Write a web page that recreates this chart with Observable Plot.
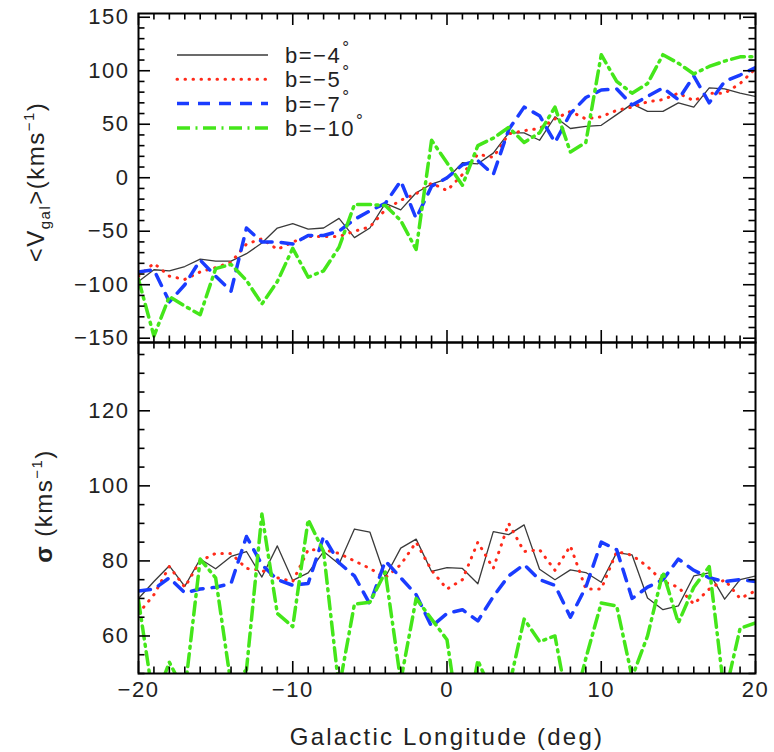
<!DOCTYPE html>
<html>
<head>
<meta charset="utf-8">
<script src="https://cdn.jsdelivr.net/npm/d3@7"></script>
<script src="https://cdn.jsdelivr.net/npm/@observablehq/plot@0.6"></script>
<style>
  html, body { margin: 0; padding: 0; background: #fff; }
  #chart { position: relative; width: 774px; height: 752px; background: #fff; }
  #chart svg { position: absolute; left: 0; }
  #chart svg text { letter-spacing: 1.5px; }
</style>
</head>
<body>
<div id="chart"></div>
<script>
// Galactic longitude of each field (deg)
const longitude = [-20,-19,-18,-17,-16,-15,-14,-13,-12,-11,-10,-9,-8,-7,-6,-5,-4,-3,-2,-1,
                   0,1,2,3,4,5,6,7,8,9,10,11,12,13,14,15,16,17,18,19,20];

// Mean galactocentric velocity <V_gal> (km/s) for each latitude strip
const vgal_b4  = [-97,-86,-87,-83,-76,-78,-78,-71,-61,-47, -43,-48,-47,-38,-56,-47,-24,-30,-14,-6,
                  -1,14,13,23,42,42,35,57,46,48,49, 59,69,62,62,70,66,84,83,79,76];
const vgal_b5  = [-92,-80,-92,-95,-88,-84,-79,-62,-57,-67, -60,-55,-55,-55,-50,-46,-30,-21,-15,-5,
                  -12,3,22,19,41,44,46,55,62,55,57, 63,66,71,73,79,72,79,79,88,102];
const vgal_b7  = [-88,-86,-116,-100,-77,-92,-106,-47,-60,-60, -62,-54,-54,-50,-39,-31,-24,-3,-38,-8,
                  0,12,16,3,45,66,58,33,60,75,82, 83,68,76,84,73,95,70,90,96,103];
const vgal_b10 = [-95,-148,-111,-120,-128,-85,-81,-96,-118,-97, -66,-93,-87,-65,-25,-25,-26,-40,-67,35,
                  14,-7,30,37,47,33,42,66,24,33,115, 90,79,88,115,107,97,104,109,113,113];

// Velocity dispersion sigma (km/s) for each latitude strip
const sigma_b4  = [70,74.5,78.7,73.2,80.5,77.9,81.2,82.5,75.7,84, 74.8,76.8,82.5,79.2,88.5,87.7,75.7,83.4,85.8,77.2,
                   78.2,78,73.9,87.8,87,89.6,77.8,75,77.6,76.9,74.3, 82.2,81.6,70.1,67,68,76,76.8,69.8,75,76];
const sigma_b5  = [66,71,78.5,73,80,82,82,78,77.5,75.5, 74.5,83,83,82,80,78,75.5,79,85,77.5,
                   72.5,75,85,78,90,82.5,83,77.5,84,72.5,72.5, 82.5,81.5,78.5,74.5,73,68.5,72.5,75,70,72];
const sigma_b7  = [72,72.5,75.5,71.5,72.5,73,74,86.5,79,75, 73.5,74,86.5,79.5,76,68.5,80,75.5,71,62.5,
                   66,67,64,70.5,76,79,75,73.5,65,73,85, 83,70,73,75,80.5,77.5,75.5,74.5,75,74.5];
const sigma_b10 = [69.5,42,53,45,80.5,75.5,47,51,92.5,66, 62.5,91,82.5,46,68.5,69,77,48,70,64.5,
                   59,31,53.5,44,46,64.5,58.5,60,38,54,68.8, 68,49,60,77,63.5,73,78.5,44,62,63.5];

// Series labels and tick labels
const seriesNames = ["b=−4", "b=−5", "b=−7", "b=−10"];
const xTicks = [-20, -10, 0, 10, 20];
const vTicks = [-150, -100, -50, 0, 50, 100, 150];
const sigmaTicks = [60, 80, 100, 120];
const xLabel = "Galactic Longitude (deg)";

// Line styles per series
const styles = [
  {stroke: "#3a3a3a", strokeWidth: 1.3},
  {stroke: "#ff2a1a", strokeWidth: 3, strokeDasharray: "0.5,7.5", strokeLinecap: "round"},
  {stroke: "#1a3cff", strokeWidth: 3.5, strokeDasharray: "12,9"},
  {stroke: "#44e61a", strokeWidth: 3.5, strokeDasharray: "13,5.5,2,5.5"}
];

const rows = vals => vals.map((v, i) => ({l: longitude[i], v}));
const fmt = d => d < 0 ? "−" + Math.abs(d) : String(d);

const W = 774, ML = 138, MR = 19;
const FONT = "'Liberation Sans', Arial, sans-serif";

function panel({series, yDomain, yMajor, yMinorStep, height, marginTop, marginBottom, bottomAxis}) {
  const fw = W - ML - MR, fh = height - marginTop - marginBottom;
  const major = 12, minor = 6.5;
  const xMinor = d3.range(-20, 21, 1).filter(v => !xTicks.includes(v));
  const yMinor = d3.range(Math.ceil(yDomain[0] / yMinorStep) * yMinorStep, yDomain[1], yMinorStep)
    .filter(v => !yMajor.includes(v));
  const tick = {stroke: "#000", strokeWidth: 1.6};
  const marks = [
    ...series.map((vals, i) => Plot.line(rows(vals), {x: "l", y: "v", clip: true, ...styles[i]})),
    Plot.ruleX(xTicks, {...tick, insetTop: fh - major}),
    Plot.ruleX(xTicks, {...tick, insetBottom: fh - major}),
    Plot.ruleX(xMinor, {...tick, insetTop: fh - minor}),
    Plot.ruleX(xMinor, {...tick, insetBottom: fh - minor}),
    Plot.ruleY(yMajor, {...tick, insetRight: fw - major}),
    Plot.ruleY(yMajor, {...tick, insetLeft: fw - major}),
    Plot.ruleY(yMinor, {...tick, insetRight: fw - minor}),
    Plot.ruleY(yMinor, {...tick, insetLeft: fw - minor}),
    Plot.frame({stroke: "#000", strokeWidth: 2}),
    Plot.axisY({ticks: yMajor, tickSize: 0, tickPadding: 9, fontSize: 22, label: null, tickFormat: fmt, fill: "#222"})
  ];
  if (bottomAxis) {
    marks.push(Plot.axisX({ticks: xTicks, tickSize: 0, tickPadding: 8, fontSize: 22, label: null, tickFormat: fmt, fill: "#222"}));
    marks.push(Plot.text([xLabel], {text: d => d, frameAnchor: "bottom", dy: 71, fontSize: 24, fill: "#222"}));
  }
  return Plot.plot({
    width: W, height, marginLeft: ML, marginRight: MR, marginTop, marginBottom,
    x: {domain: [-20, 20], axis: bottomAxis ? undefined : null},
    y: {domain: yDomain},
    style: {fontFamily: FONT, background: "transparent", color: "#222", overflow: "visible"},
    marks
  });
}

const chart = document.getElementById("chart");

const sigmaPanel = panel({
  series: [sigma_b4, sigma_b5, sigma_b7, sigma_b10],
  yDomain: [50, 138.2], yMajor: sigmaTicks, yMinorStep: 5,
  height: 410, marginTop: 0, marginBottom: 79, bottomAxis: true
});
sigmaPanel.style.top = "342px";
chart.appendChild(sigmaPanel);

// The velocity panel goes on top so its lowest tick label can overhang the lower panel
const velocityPanel = panel({
  series: [vgal_b4, vgal_b5, vgal_b7, vgal_b10],
  yDomain: [-154, 153.5], yMajor: vTicks, yMinorStep: 10,
  height: 342, marginTop: 13, marginBottom: 0, bottomAxis: false
});
velocityPanel.style.top = "0px";
chart.appendChild(velocityPanel);

// Rotated axis titles with sub/superscripts
function title(svg, x, y, parts) {
  const t = d3.select(svg).append("text")
    .attr("transform", `translate(${x},${y}) rotate(-90)`)
    .attr("text-anchor", "middle").attr("font-family", FONT)
    .attr("font-size", 24).attr("fill", "#222");
  for (const p of parts) {
    const s = t.append("tspan").text(p.text);
    if (p.size) s.attr("font-size", p.size);
    if (p.dy) s.attr("dy", p.dy);
    if (p.weight) s.attr("font-weight", p.weight);
  }
}
title(velocityPanel, 44, 182, [
  {text: "<V"}, {text: "gal", size: 15, dy: 6}, {text: ">(kms", dy: -6},
  {text: "−1", size: 15, dy: -10}, {text: ")", dy: 10}
]);
title(sigmaPanel, 52, 164, [
  {text: "σ", weight: "bold"}, {text: " (kms"},
  {text: "−1", size: 15, dy: -10}, {text: ")", dy: 10}
]);
d3.select(sigmaPanel).selectAll("text")
  .filter(function() { return this.textContent === xLabel; })
  .style("letter-spacing", "2.2px");

// Legend in the upper-left corner of the velocity panel
const lg = d3.select(velocityPanel).append("g");
seriesNames.forEach((name, i) => {
  const y = 55 + i * 24.3, s = styles[i];
  lg.append("line").attr("x1", 177).attr("x2", 268).attr("y1", y).attr("y2", y)
    .attr("stroke", s.stroke).attr("stroke-width", s.strokeWidth)
    .attr("stroke-dasharray", s.strokeDasharray || null)
    .attr("stroke-linecap", s.strokeLinecap || null);
  const t = lg.append("text").attr("x", 285).attr("y", y).attr("dy", "0.36em")
    .attr("text-anchor", "start")
    .attr("font-family", FONT).attr("font-size", 22).attr("fill", "#222");
  t.append("tspan").text(name);
  t.append("tspan").attr("dy", -10).attr("dx", 1).attr("font-size", 17).text("°");
});
</script>
</body>
</html>
